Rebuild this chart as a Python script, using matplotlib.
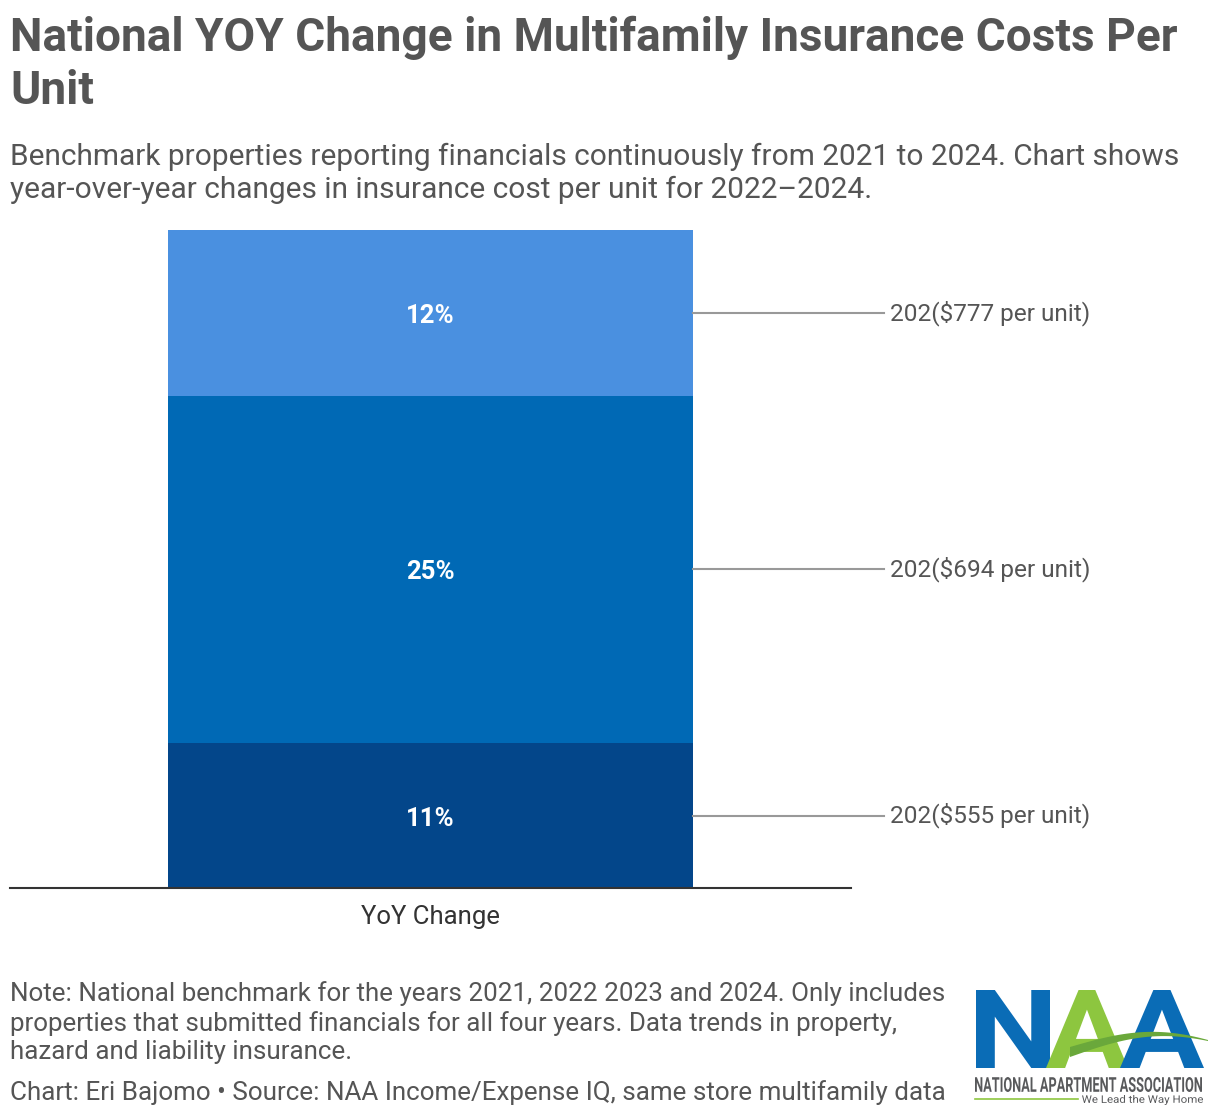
import numpy as np
import matplotlib
matplotlib.use("Agg")
import matplotlib.pyplot as plt
import matplotlib.transforms as mtransforms
from matplotlib.textpath import TextPath
from matplotlib.font_manager import FontProperties
from matplotlib.patches import PathPatch, Polygon

plt.rcParams['font.family'] = ['Roboto', 'DejaVu Sans']

# data
categories = ["YoY Change"]
segment_values = [10.5, 25.2, 12.0]          # bottom -> top (% YoY)
segment_labels = ["11%", "25%", "12%"]
side_labels = ["202($555 per unit)", "202($694 per unit)", "202($777 per unit)"]
segment_colors = ["#03468a", "#0069b5", "#4a90e0"]

TITLE = "National YOY Change in Multifamily Insurance Costs Per\nUnit"
SUBTITLE = ("Benchmark properties reporting financials continuously from 2021 to 2024. Chart shows\n"
            "year-over-year changes in insurance cost per unit for 2022\u20132024.")
NOTE = ("Note: National benchmark for the years 2021, 2022 2023 and 2024. Only includes\n"
        "properties that submitted financials for all four years. Data trends in property,\n"
        "hazard and liability insurance.")
SOURCE = "Chart: Eri Bajomo \u2022 Source: NAA Income/Expense IQ, same store multifamily data"

W, H = 1220, 1116
TXT = "#555555"

fig = plt.figure(figsize=(W / 100, H / 100), dpi=100)
fig.patch.set_facecolor("white")

# chart axes, placed in pixels
left, right, top, bottom = 10, 851, 230, 888
ax = fig.add_axes([left / W, 1 - bottom / H, (right - left) / W, (bottom - top) / H])

bar_w = 1.0
half = 0.5 * (right - left) / 525.0 * bar_w
base = 0
for v, lab, c in zip(segment_values, segment_labels, segment_colors):
    ax.bar(0, v, width=bar_w, bottom=base, color=c, edgecolor="none")
    ax.annotate(lab, (0, base + v / 2), xytext=(0, -3), textcoords="offset pixels",
                ha="center", va="center", color="white",
                fontsize=18.5, fontweight="bold")
    base += v

ax.set_xlim(-half, half)
ax.set_ylim(0, sum(segment_values))
ax.set_xticks([0])
ax.set_xticklabels(categories, fontsize=18.5, color="#333333")
ax.tick_params(axis="x", length=0, pad=12)
ax.set_yticks([])
for s in ["top", "right", "left"]:
    ax.spines[s].set_visible(False)
ax.spines["bottom"].set_color("#333333")
ax.spines["bottom"].set_linewidth(1.5)

# leader lines + side labels (x in figure pixels, y in data)
trans = mtransforms.blended_transform_factory(fig.transFigure, ax.transData)
base = 0
for v, lab in zip(segment_values, side_labels):
    yc = base + v / 2
    ax.plot([693 / W, 884 / W], [yc, yc], color="#999999", lw=1.5,
            transform=trans, clip_on=False)
    ax.text(890 / W, yc, lab, transform=trans, ha="left", va="center",
            fontsize=17.6, color=TXT)
    base += v

# header and footer text
fig.text(10 / W, 1 - 16 / H, TITLE, ha="left", va="top", fontsize=33.1,
         fontweight="bold", color=TXT, linespacing=1.26)
fig.text(10 / W, 1 - 143 / H, SUBTITLE, ha="left", va="top", fontsize=21.5,
         color=TXT, linespacing=1.2)
fig.text(10 / W, 1 - 981 / H, NOTE, ha="left", va="top", fontsize=18.7,
         color=TXT, linespacing=1.24)
fig.text(10 / W, 1 - 1080 / H, SOURCE, ha="left", va="top", fontsize=18.7,
         color=TXT)

# logo drawn on a pixel overlay
lax = fig.add_axes([0, 0, 1, 1], zorder=5)
lax.set_xlim(0, W)
lax.set_ylim(H, 0)
lax.axis("off")
lax.patch.set_alpha(0)


def fit_text(s, x0, y0, x1, y1, color, weight="bold"):
    tp = TextPath((0, 0), s, size=100, prop=FontProperties(family="Roboto", weight=weight))
    bb = tp.get_extents()
    tr = (mtransforms.Affine2D().translate(-bb.x0, -bb.y0)
          .scale((x1 - x0) / bb.width, -(y1 - y0) / bb.height).translate(x0, y1))
    lax.add_patch(PathPatch(tr.transform_path(tp), facecolor=color, edgecolor="none"))


fit_text("N", 976, 990, 1050, 1068, "#0a6cb6")
fit_text("A", 1046, 990, 1128, 1068, "#8dc63f")
fit_text("A", 1120, 990, 1204, 1068, "#0a6cb6")
t = np.linspace(0, 1, 40)
xs = 1070 + t * (1208 - 1070)
upper = 1047 - 17 * np.sin(np.pi * t * 0.8) + 3 * t
lower = upper + 9 * (1 - t) + 1
pts = np.vstack([np.column_stack([xs, upper]), np.column_stack([xs[::-1], lower[::-1]])])
lax.add_patch(Polygon(pts, closed=True, facecolor="#6aa83b", edgecolor="none"))
fit_text("NATIONAL APARTMENT ASSOCIATION", 975, 1077, 1202, 1092, "#58595b")
lax.plot([975, 1078], [1099, 1099], color="#8dc63f", lw=1.2)
fit_text("We Lead the Way Home", 1082, 1095, 1203, 1105, "#58595b", weight="normal")

fig.savefig("out.png", dpi=100, facecolor="white")
